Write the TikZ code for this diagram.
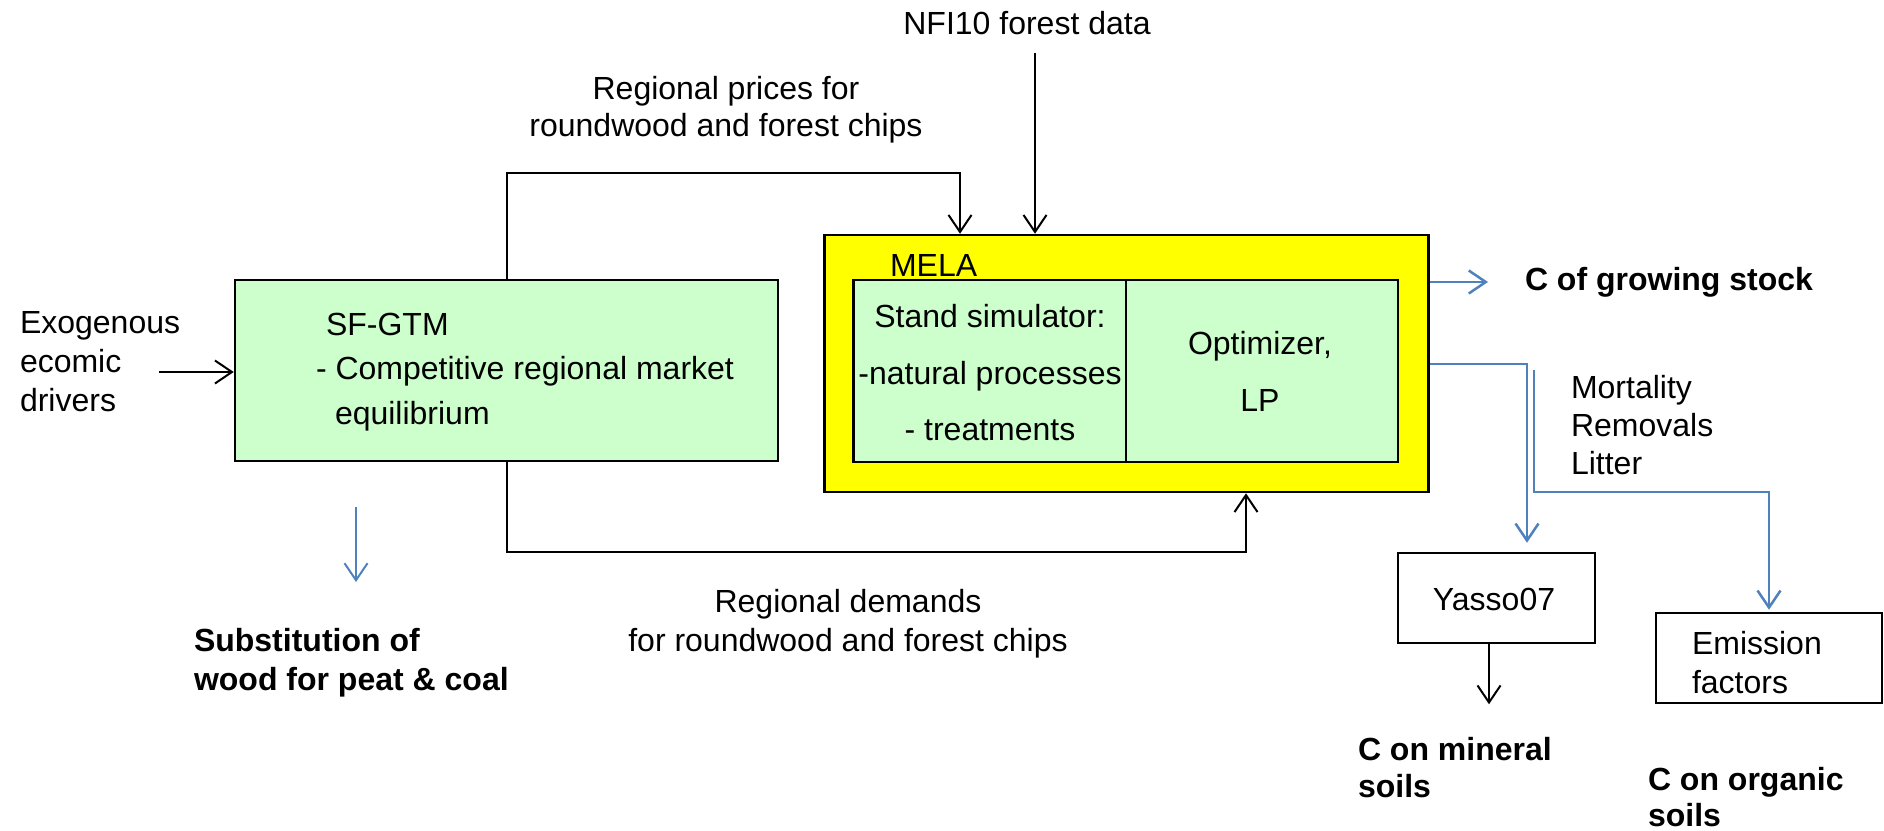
\documentclass[tikz,border=0pt]{standalone}
\usepackage{fontspec}
\setmainfont{Liberation Sans}
\usetikzlibrary{arrows.meta}

\definecolor{boxgreen}{RGB}{204,255,204}
\definecolor{melayellow}{RGB}{255,255,0}
\definecolor{flowblue}{RGB}{79,129,189}

\tikzset{every picture/.style={line width=2pt}}
\tikzset{
  box/.style={draw, line width=2.5pt, inner sep=0pt},
  txt/.style={inner sep=0pt, font=\fontsize{32}{39}\selectfont},
  btxt/.style={inner sep=0pt, font=\fontsize{32}{38}\selectfont\bfseries},
  arr/.style={-{Straight Barb[length=17pt,width=23pt]}, line width=2pt},
  barr/.style={arr, draw=flowblue, line width=2.5pt},
}

\begin{document}
\begin{tikzpicture}[x=1pt,y=1pt,yscale=-1]
				\useasboundingbox (0,0) rectangle (1884,830);
				%Shape: Rectangle [SF-GTM]
				\node[box, fill=boxgreen, minimum width=543pt, minimum height=181pt] (sfgtm) at (506.5,370.5) {};
				%Shape: Rectangle [MELA]
				\node[box, fill=melayellow, minimum width=604pt, minimum height=257pt] (mela) at (1126.5,363.5) {};
				%Shape: Rectangle [stand simulator]
				\node[box, fill=boxgreen, minimum width=272.4pt, minimum height=182pt] (simbox) at (989.8,371) {};
				%Shape: Rectangle [optimizer]
				\node[box, fill=boxgreen, minimum width=272pt, minimum height=182pt] (optbox) at (1262,371) {};
				%Shape: Rectangle [Yasso07]
				\node[box, minimum width=197pt, minimum height=90pt] (yasso) at (1496.5,598) {};
				%Shape: Rectangle [emission factors]
				\node[box, minimum width=226pt, minimum height=90pt] (emis) at (1769,658) {};

				% Text Node
				\node[txt] (nfi) at (1027,23) {NFI10 forest data};
				% Text Node
				\node[txt, align=center, font=\fontsize{32}{37}\selectfont] (prices) at (726,110) {Regional prices for\\roundwood and forest chips};
				% Text Node
				\node[txt, align=left, anchor=west] (exo) at (19,362) {Exogenous\\ecomic\\drivers};
				% Text Node
				\node[txt, align=left, anchor=west, font=\fontsize{32}{44.5}\selectfont] (sftext) at (315,372) {\hspace*{10pt}SF-GTM\\- Competitive regional market\\\hspace*{19pt}equilibrium};
				% Text Node
				\node[txt, anchor=west] (melatext) at (889,265) {MELA};
				% Text Node
				\node[txt, align=center, font=\fontsize{32}{56.5}\selectfont] (simtext) at (990,373) {Stand simulator:\\-natural processes\\- treatments};
				% Text Node
				\node[txt, align=center, font=\fontsize{32}{57}\selectfont] (opttext) at (1260,371.5) {Optimizer,\\LP};
				% Text Node
				\node[txt, align=center] (demands) at (848,623.5) {Regional demands\\for roundwood and forest chips};
				% Text Node
				\node[btxt, align=left, anchor=west, font=\fontsize{32}{39}\selectfont\bfseries] (subst) at (193,662.5) {Substitution of\\wood for peat \& coal};
				% Text Node
				\node[btxt, anchor=west] (growing) at (1524,282) {C of growing stock};
				% Text Node
				\node[txt, align=left, anchor=west, font=\fontsize{32}{38}\selectfont] (mortal) at (1570,425) {Mortality\\Removals\\Litter};
				% Text Node
				\node[txt] (yassotext) at (1494,599) {Yasso07};
				% Text Node
				\node[txt, align=left, anchor=west] (emistext) at (1691,663) {Emission\\factors};
				% Text Node
				\node[btxt, align=left, anchor=west, font=\fontsize{32}{37}\selectfont\bfseries] (mineral) at (1357,768) {C on mineral\\soils};
				% Text Node
				\node[btxt, align=left, anchor=west, font=\fontsize{32}{36}\selectfont\bfseries] (organic) at (1647,797) {C on organic\\soils};

				%Straight Lines [drivers]
				\coordinate (exoend) at (159,372);
				\draw[arr] (exoend) -- (exoend -| sfgtm.west);
				%Straight Lines [prices]
				\coordinate (prcorner) at (960,173);
				\draw[arr] (sfgtm.north) |- (prcorner) -- (prcorner |- mela.north);
				%Straight Lines [forest data]
				\coordinate (nfistart) at (1035,53);
				\draw[arr] (nfistart) -- (nfistart |- mela.north);
				%Straight Lines [demands]
				\coordinate (dmcorner) at (1246,552);
				\draw[arr] (sfgtm.south) |- (dmcorner) -- (dmcorner |- mela.south);
				%Straight Lines [substitution]
				\coordinate (sbstart) at (356,507);
				\draw[barr, line width=2pt] (sbstart) -- ++(0,75);
				%Straight Lines [growing stock]
				\draw[barr] (mela.east |- growing.west) -- ([xshift=-36pt]growing.west);
				%Straight Lines [to Yasso07]
				\coordinate (ysbend) at (1527,364);
				\draw[barr, shorten >=9pt] (mela.east |- ysbend) -| (yasso.north -| ysbend);
				%Straight Lines [to emission factors]
				\coordinate (ltstart) at (1534,370);
				\coordinate (ltbend) at (1769,492);
				\draw[barr, shorten >=2pt] (ltstart) |- (ltbend) -- (ltbend |- emis.north);
				%Straight Lines [mineral soils]
				\draw[arr] ([xshift=-7.5pt]yasso.south) -- ++(0,60);
\end{tikzpicture}
\end{document}
